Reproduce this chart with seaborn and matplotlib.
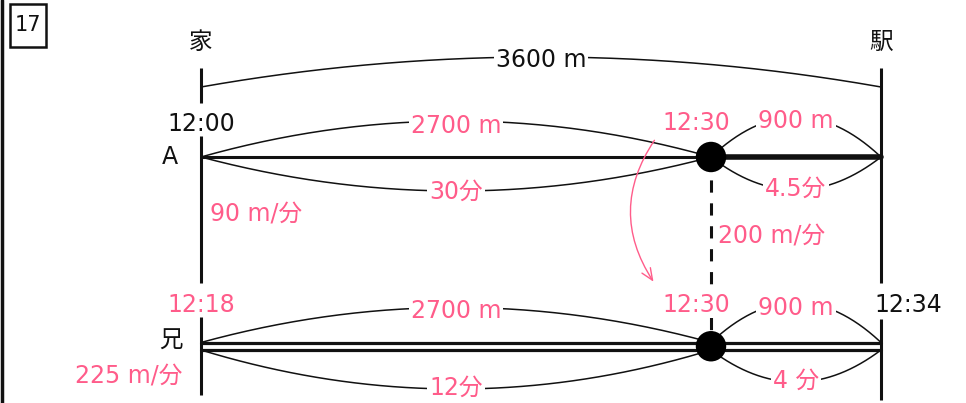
import numpy as np
import pandas as pd
import matplotlib
matplotlib.use('Agg')
import matplotlib.pyplot as plt
import seaborn as sns

# Datos del problema
total_m = 3600
a_antes_m = 2700
a_despues_m = total_m - a_antes_m
etiquetas_dist = ['3600 m', '2700 m', '900 m']
a_tiempos = ['30分', '4.5分']
h_tiempos = ['12分', '4 分']
horas_a = ['12:00', '12:30']
horas_h = ['12:18', '12:30', '12:34']
velocidades = ['90 m/分', '200 m/分', '225 m/分']

rosa = '#ff5c8a'
negro = '#111111'
fs = 17

sns.set_theme(style='white')
plt.rcParams['font.family'] = ['DejaVu Sans', 'Noto Sans CJK JP']

fig = plt.figure(figsize=(9.66, 4.03), dpi=100)
ax = fig.add_axes([0, 0, 1, 1])
ppm = 680 / total_m          # pixeles por metro
x0 = 201
ax.set_xlim(-x0 / ppm, (966 - x0) / ppm)
ax.set_ylim(403, 0)
ax.axis('off')

def mx(px):
    return (px - x0) / ppm

y_a = 157
y_h1, y_h2 = 342.5, 350
y_h = (y_h1 + y_h2) / 2
fondo = dict(facecolor='white', edgecolor='none', pad=1.5)

# Lineas verticales de casa y estacion
for xm, tramos in [(0, [(68, 103), (136, 283), (317, 395)]),
                   (total_m, [(68, 283), (319, 400)])]:
    for ya, yb in tramos:
        ax.plot([xm, xm], [ya, yb], color=negro, lw=2.2, solid_capstyle='butt')

# Recorrido de A
tramos_a = pd.DataFrame({'x': [0, a_antes_m], 'y': [y_a, y_a]})
sns.lineplot(data=tramos_a, x='x', y='y', color=negro, lw=2.2, ax=ax)
tramos_a2 = pd.DataFrame({'x': [a_antes_m, total_m], 'y': [y_a, y_a]})
sns.lineplot(data=tramos_a2, x='x', y='y', color=negro, lw=4, ax=ax)

# Recorrido del hermano (linea doble)
for yy in [y_h1, y_h2]:
    d = pd.DataFrame({'x': [0, total_m], 'y': [yy, yy]})
    sns.lineplot(data=d, x='x', y='y', color=negro, lw=2.3, ax=ax)

# Linea punteada entre los encuentros
ax.plot([a_antes_m, a_antes_m], [y_a, y_h], color=negro, lw=2.2, dashes=(4, 3.5), zorder=1)

puntos = pd.DataFrame({'x': [a_antes_m, a_antes_m], 'y': [y_a, y_h]})
sns.scatterplot(data=puntos, x='x', y='y', s=480, color='black', edgecolor='none', ax=ax, zorder=5)

def arco(xa, xb, y, h, texto, color, ty=None):
    t = np.linspace(0, 1, 200)
    xs = xa + (xb - xa) * t
    ys = y - 4 * h * t * (1 - t)
    ax.plot(xs, ys, color=negro, lw=1.1, zorder=2)
    if ty is None:
        ty = y - h
    ax.text((xa + xb) / 2, ty, texto, color=color, fontsize=fs, ha='center', va='center',
            bbox=fondo, zorder=3)

# Arcos de distancia y tiempo
arco(0, total_m, 87, 30, etiquetas_dist[0], negro, ty=60)
arco(0, a_antes_m, y_a, 36, etiquetas_dist[1], rosa, ty=126)
arco(0, a_antes_m, y_a, -34, a_tiempos[0], rosa, ty=192)
arco(a_antes_m, total_m, y_a, 40, etiquetas_dist[2], rosa, ty=121)
arco(a_antes_m, total_m, y_a, -33, a_tiempos[1], rosa, ty=189)
arco(0, a_antes_m, y_h1, 35, etiquetas_dist[1], rosa, ty=311)
arco(0, a_antes_m, y_h2, -39, h_tiempos[0], rosa, ty=388)
arco(a_antes_m, total_m, y_h1, 40, etiquetas_dist[2], rosa, ty=308)
arco(a_antes_m, total_m, y_h2, -32, h_tiempos[1], rosa, ty=381)

# Textos negros
ax.text(0, 42, '家', color=negro, fontsize=fs, ha='center', va='center')
ax.text(total_m, 42, '駅', color=negro, fontsize=fs, ha='center', va='center')
ax.text(0, 124, horas_a[0], color=negro, fontsize=fs, ha='center', va='center')
ax.text(mx(170), y_a, 'A', color=negro, fontsize=fs, ha='center', va='center')
ax.text(mx(171), 341, '兄', color=negro, fontsize=fs, ha='center', va='center')
ax.text(mx(908), 305, horas_h[2], color=negro, fontsize=fs, ha='center', va='center')

# Textos rosas
ax.text(mx(696), 123, horas_a[1], color=rosa, fontsize=fs, ha='center', va='center')
ax.text(mx(696), 305, horas_h[1], color=rosa, fontsize=fs, ha='center', va='center',
        bbox=dict(facecolor='white', edgecolor='none', pad=0.5), zorder=3)
ax.text(0, 305, horas_h[0], color=rosa, fontsize=fs, ha='center', va='center')
ax.text(mx(210), 214, velocidades[0], color=rosa, fontsize=fs, ha='left', va='center')
ax.text(mx(718), 237, velocidades[1], color=rosa, fontsize=fs, ha='left', va='center')
ax.text(mx(182), 377, velocidades[2], color=rosa, fontsize=fs, ha='right', va='center')

# Flecha curva
ax.annotate('', xy=(mx(655), 284), xytext=(mx(656), 138),
            arrowprops=dict(arrowstyle='->,head_length=0.7,head_width=0.3', color=rosa, lw=1,
                            connectionstyle='arc3,rad=0.34'))

# Marco del numero de problema y barra izquierda
ax.add_patch(plt.Rectangle((mx(10), 4), mx(46) - mx(10), 43, fill=False, edgecolor=negro, lw=1.8))
ax.text(mx(28), 25, '17', color=negro, fontsize=15, ha='center', va='center')
ax.plot([mx(1.5), mx(1.5)], [0, 403], color=negro, lw=2.5)

fig.savefig('out.png', dpi=100)
